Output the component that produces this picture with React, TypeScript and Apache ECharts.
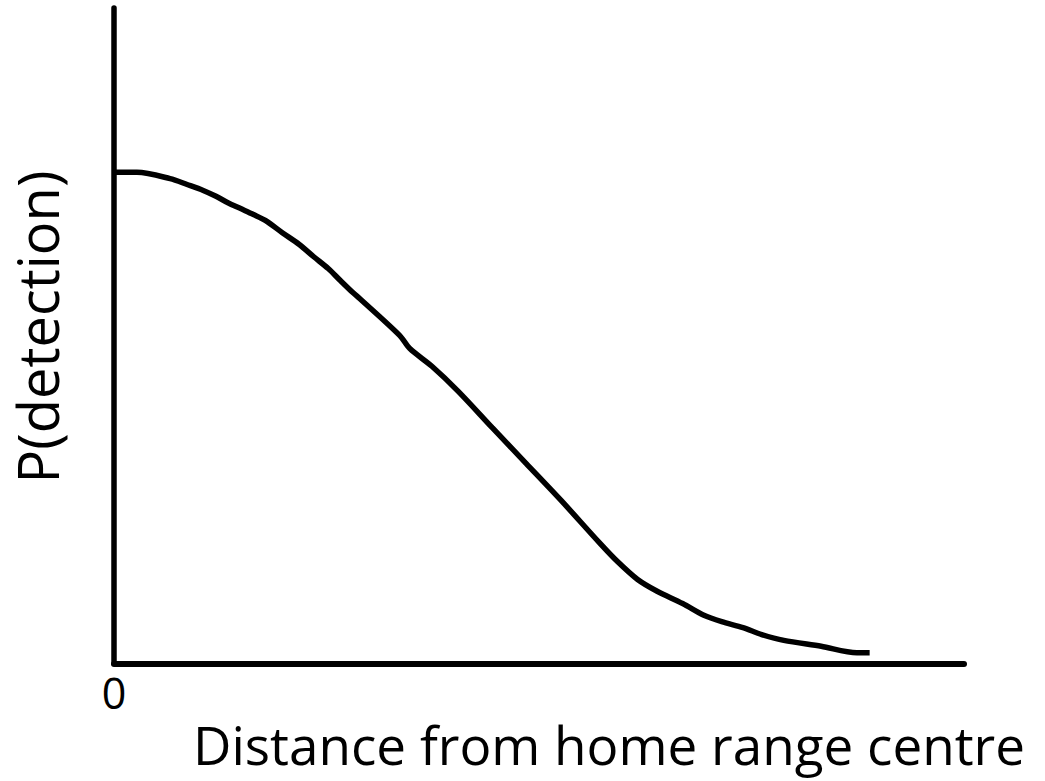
import React, { useEffect, useRef } from "react";
import * as echarts from "echarts";

// Distance from home range centre (arbitrary units, 0..10 across the axis)
const distance = [
  0, 0.27, 0.66, 0.86, 1.05, 1.2, 1.34, 1.49, 1.64, 1.78, 1.98, 2.18, 2.35,
  2.52, 2.66, 2.81, 2.89, 3.36, 3.48, 3.74, 4.05, 4.45, 4.85, 5.26, 5.71, 5.92,
  6.16, 6.39, 6.69, 6.94, 7.15, 7.4, 7.62, 7.88, 8.32, 8.74, 8.89,
];
// P(detection), 1 at the centre
const detection = [
  1.0, 1.0, 0.987, 0.975, 0.963, 0.951, 0.938, 0.926, 0.914, 0.902, 0.877,
  0.853, 0.828, 0.804, 0.78, 0.755, 0.743, 0.668, 0.641, 0.605, 0.554, 0.48,
  0.407, 0.332, 0.246, 0.208, 0.171, 0.147, 0.122, 0.098, 0.085, 0.073, 0.059,
  0.047, 0.035, 0.022, 0.022,
];
const xTickLabels = ["0"];
const xTitle = "Distance from home range centre";
const yTitle = "P(detection)";

const FONT = "'Open Sans', 'Noto Sans', sans-serif";

export default function App() {
  const ref = useRef<HTMLDivElement>(null);
  useEffect(() => {
    if (!ref.current) return;
    const chart = echarts.init(ref.current, undefined, { renderer: "svg" });
    const data = distance.map((d, i) => [d, detection[i]]);
    chart.setOption({
      animation: false,
      backgroundColor: "#ffffff",
      grid: { left: 114, top: 8, width: 850, height: 655.5 },
      xAxis: {
        type: "value",
        min: 0,
        max: 10,
        interval: 10,
        axisLine: { show: true, lineStyle: { color: "#000", width: 6 } },
        axisTick: { show: false },
        splitLine: { show: false },
        axisLabel: {
          show: true,
          color: "#000",
          fontFamily: FONT,
          fontSize: 43,
          margin: 7,
          formatter: (v: number) => (v === 0 ? xTickLabels[0] : ""),
        },
      },
      yAxis: {
        type: "value",
        min: 0,
        max: 655.5 / 491.25,
        axisLine: { show: true, lineStyle: { color: "#000", width: 5.5 } },
        axisTick: { show: false },
        splitLine: { show: false },
        axisLabel: { show: false },
      },
      series: [
        {
          type: "line",
          data,
          showSymbol: false,
          lineStyle: { color: "#000", width: 5.5 },
          smooth: 0.3,
        },
      ],
      graphic: [
        {
          type: "text",
          x: 609,
          y: 744,
          style: {
            text: xTitle,
            fill: "#000",
            font: `53px ${FONT}`,
            textAlign: "center",
            textVerticalAlign: "middle",
          },
        },
        {
          type: "text",
          x: 37,
          y: 327,
          rotation: Math.PI / 2,
          style: {
            text: yTitle,
            fill: "#000",
            font: `56px ${FONT}`,
            textAlign: "center",
            textVerticalAlign: "middle",
          },
        },
      ],
    });
    return () => chart.dispose();
  }, []);
  return (
    <div
      ref={ref}
      style={{ position: "absolute", left: 0, top: 0, width: 1045, height: 781 }}
    />
  );
}
